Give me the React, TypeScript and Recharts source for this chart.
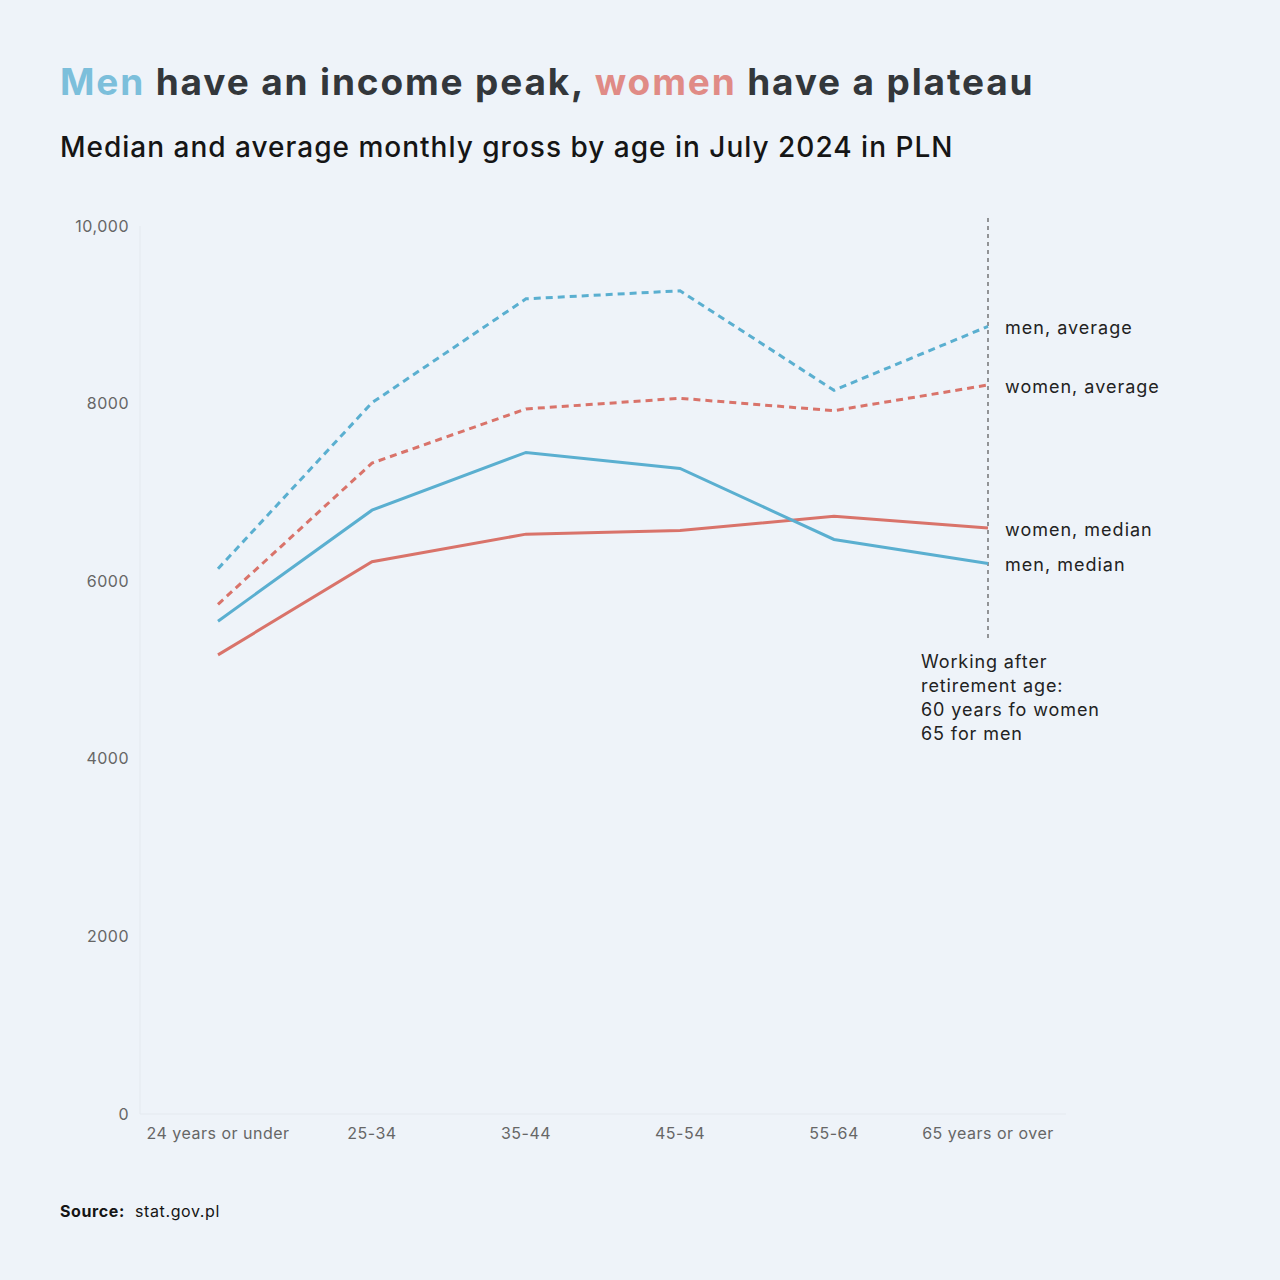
import { CartesianGrid, Line, LineChart, ReferenceLine, XAxis, YAxis } from "recharts";

const ageGroups = ["24 years or under", "25-34", "35-44", "45-54", "55-64", "65 years or over"];
const menAverage = [6140, 8010, 9180, 9270, 8150, 8870];
const womenAverage = [5740, 7330, 7940, 8060, 7920, 8210];
const womenMedian = [5170, 6220, 6530, 6570, 6730, 6600];
const menMedian = [5550, 6800, 7450, 7270, 6470, 6200];
const yTicks = [0, 2000, 4000, 6000, 8000, 10000];

const BLUE = "#5aafd0";
const RED = "#d9736a";
const BG = "#eef3f9";
const FONT = "Inter, 'Open Sans', sans-serif";

const data = ageGroups.map((age, i) => ({
  age,
  menAverage: menAverage[i],
  womenAverage: womenAverage[i],
  womenMedian: womenMedian[i],
  menMedian: menMedian[i],
}));

/** Series name written just right of the last point. */
function endLabel(name: string) {
  return (props: any) => {
    if (props.index !== ageGroups.length - 1) return <g />;
    return (
      <text x={props.x + 17} y={props.y} dy={8} fontSize={18} fill="#222" fontFamily={FONT} letterSpacing={1}>
        {name}
      </text>
    );
  };
}

function RetirementNote(props: any) {
  const { x, y, height } = props.viewBox;
  const lines = ["Working after", "retirement age:", "60 years fo women", "65 for men"];
  return (
    <text x={x - 67} y={y + height + 28} fontSize={18} fill="#222" fontFamily={FONT} letterSpacing={0.9}>
      {lines.map((t, i) => (
        <tspan key={t} x={x - 67} dy={i === 0 ? 0 : 24}>
          {t}
        </tspan>
      ))}
    </text>
  );
}

export default function App() {
  return (
    <div style={{ position: "absolute", left: 0, top: 0, width: 1280, height: 1280, background: BG, fontFamily: FONT }}>
      <div style={{ position: "absolute", left: 60, top: 59, fontSize: 37, fontWeight: 700, letterSpacing: 1.85, color: "#33373b", whiteSpace: "nowrap" }}>
        <span style={{ color: "#7cbfdb" }}>Men</span> have an income peak,{" "}
        <span style={{ color: "#e08b86" }}>women</span> have a plateau
      </div>
      <div style={{ position: "absolute", left: 60, top: 130, fontSize: 28, fontWeight: 500, letterSpacing: 1, color: "#151515", whiteSpace: "nowrap" }}>
        Median and average monthly gross by age in July 2024 in PLN
      </div>
      <div style={{ position: "absolute", left: 60, top: 1201, fontSize: 16, letterSpacing: 0.6, color: "#151515", whiteSpace: "nowrap" }}>
        <b>Source:</b>&nbsp; stat.gov.pl
      </div>
      <LineChart
        width={1280}
        height={1280}
        data={data}
        margin={{ top: 226, right: 214, bottom: 136, left: 60 }}
        style={{ position: "absolute", left: 0, top: 0 }}
      >
        <CartesianGrid horizontal={false} vertical={false} />
        <XAxis
          dataKey="age"
          padding={{ left: 78, right: 78 }}
          height={30}
          tickLine={false}
          axisLine={{ stroke: "#e4e9ef" }}
          tick={{ fontSize: 16, fill: "#666", fontFamily: FONT, letterSpacing: 0.5 }}
          tickMargin={8}
          interval={0}
        />
        <YAxis
          width={80}
          domain={[0, 10000]}
          ticks={yTicks}
          tickFormatter={(v: number) => (v === 10000 ? "10,000" : String(v))}
          tickLine={false}
          axisLine={{ stroke: "#e4e9ef" }}
          tick={{ fontSize: 16, fill: "#666", fontFamily: FONT, letterSpacing: 0.5 }}
          tickMargin={5}
        />
        <ReferenceLine
          segment={[
            { x: "65 years or over", y: 10090 },
            { x: "65 years or over", y: 5340 },
          ]}
          stroke="#555"
          strokeWidth={1.2}
          strokeDasharray="4 4"
          ifOverflow="visible"
          label={<RetirementNote />}
        />
        <Line dataKey="menAverage" stroke={BLUE} strokeWidth={3} strokeDasharray="7 5" dot={false} isAnimationActive={false} label={endLabel("men, average")} />
        <Line dataKey="womenAverage" stroke={RED} strokeWidth={3} strokeDasharray="7 5" dot={false} isAnimationActive={false} label={endLabel("women, average")} />
        <Line dataKey="womenMedian" stroke={RED} strokeWidth={3} dot={false} isAnimationActive={false} label={endLabel("women, median")} />
        <Line dataKey="menMedian" stroke={BLUE} strokeWidth={3} dot={false} isAnimationActive={false} label={endLabel("men, median")} />
      </LineChart>
    </div>
  );
}
